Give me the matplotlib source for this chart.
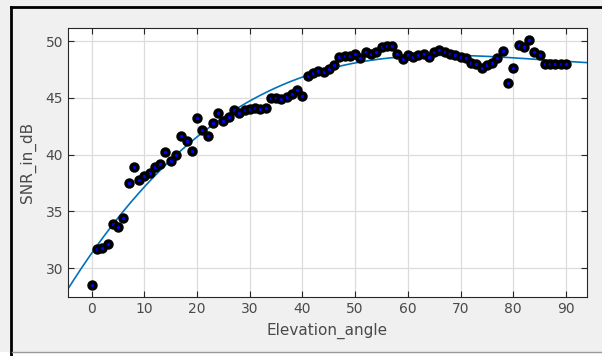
import numpy as np
import matplotlib.pyplot as plt
from matplotlib.lines import Line2D
from matplotlib.patches import Rectangle

elevation = np.arange(0, 91)
snr = [28.5, 31.7, 31.8, 32.1, 33.9, 33.6, 34.4, 37.5, 38.9, 37.8,
       38.1, 38.4, 38.9, 39.2, 40.2, 39.4, 40.0, 41.6, 41.2, 40.3,
       43.2, 42.2, 41.6, 42.8, 43.7, 43.0, 43.3, 43.9, 43.7, 43.9,
       44.0, 44.1, 44.0, 44.1, 45.0, 45.0, 44.9, 45.1, 45.3, 45.7,
       45.2, 46.9, 47.2, 47.4, 47.3, 47.5, 47.9, 48.6, 48.7, 48.7,
       48.85, 48.5, 49.0, 48.9, 49.0, 49.5, 49.55, 49.55, 48.85, 48.4,
       48.8, 48.6, 48.8, 48.85, 48.6, 49.05, 49.25, 49.0, 48.85, 48.8,
       48.6, 48.5, 48.1, 47.95, 47.65, 47.9, 48.05, 48.5, 49.15, 46.3,
       47.6, 49.65, 49.5, 50.05, 49.05, 48.8, 48.0, 48.0, 48.0, 48.0,
       48.0]

xticks = [0, 10, 20, 30, 40, 50, 60, 70, 80, 90]
yticks = [30, 35, 40, 45, 50]

# cubic fit through the measurements
coef = np.polyfit(elevation, snr, 3)
xfit = np.linspace(-6, 96, 300)
yfit = np.polyval(coef, xfit)

txt = '#4a4a4a'
fam = ['Liberation Sans Narrow', 'DejaVu Sans']

fig = plt.figure(figsize=(6.02, 3.56), dpi=100, facecolor='#f0f0f0')
ax = fig.add_axes([68 / 602, 1 - 297 / 356, 519 / 602, 269 / 356])
ax.set_facecolor('white')

ax.plot(xfit, yfit, color='#0072BD', lw=1.2, zorder=2)
ax.plot(elevation, snr, linestyle='none', marker='o', ms=5, mew=2.5,
        mec='black', mfc='#0000ff', zorder=3)

ax.set_xlim(-4.5, 94)
ax.set_ylim(27.45, 51.15)
ax.set_xticks(xticks)
ax.set_yticks(yticks)
ax.grid(True, color='#dcdcdc', lw=0.9)
ax.set_axisbelow(True)
ax.tick_params(direction='in', top=True, right=True, length=4,
               color='#262626', labelcolor=txt, labelsize=10)
for lab in ax.get_xticklabels() + ax.get_yticklabels():
    lab.set_family(fam)
for sp in ax.spines.values():
    sp.set_color('#262626')
    sp.set_linewidth(0.8)

ax.set_xlabel('Elevation_angle', color=txt, fontsize=11, family=fam,
              labelpad=5)
ax.set_ylabel('SNR_in_dB', color=txt, fontsize=11, family=fam,
              labelpad=7)

# window frame
fig.add_artist(Line2D([11 / 602, 11 / 602], [0, 1 - 7 / 356],
                      transform=fig.transFigure, color='black', lw=2))
fig.add_artist(Line2D([11 / 602, 1], [1 - 7 / 356, 1 - 7 / 356],
                      transform=fig.transFigure, color='black', lw=2))
fig.add_artist(Rectangle((0, 0), 1, 4 / 356, transform=fig.transFigure,
                         facecolor='white', edgecolor='none'))
fig.add_artist(Line2D([12 / 602, 1], [4.5 / 356, 4.5 / 356],
                      transform=fig.transFigure, color='#9a9a9a', lw=1))

fig.savefig('out.png', dpi=100, facecolor=fig.get_facecolor())
